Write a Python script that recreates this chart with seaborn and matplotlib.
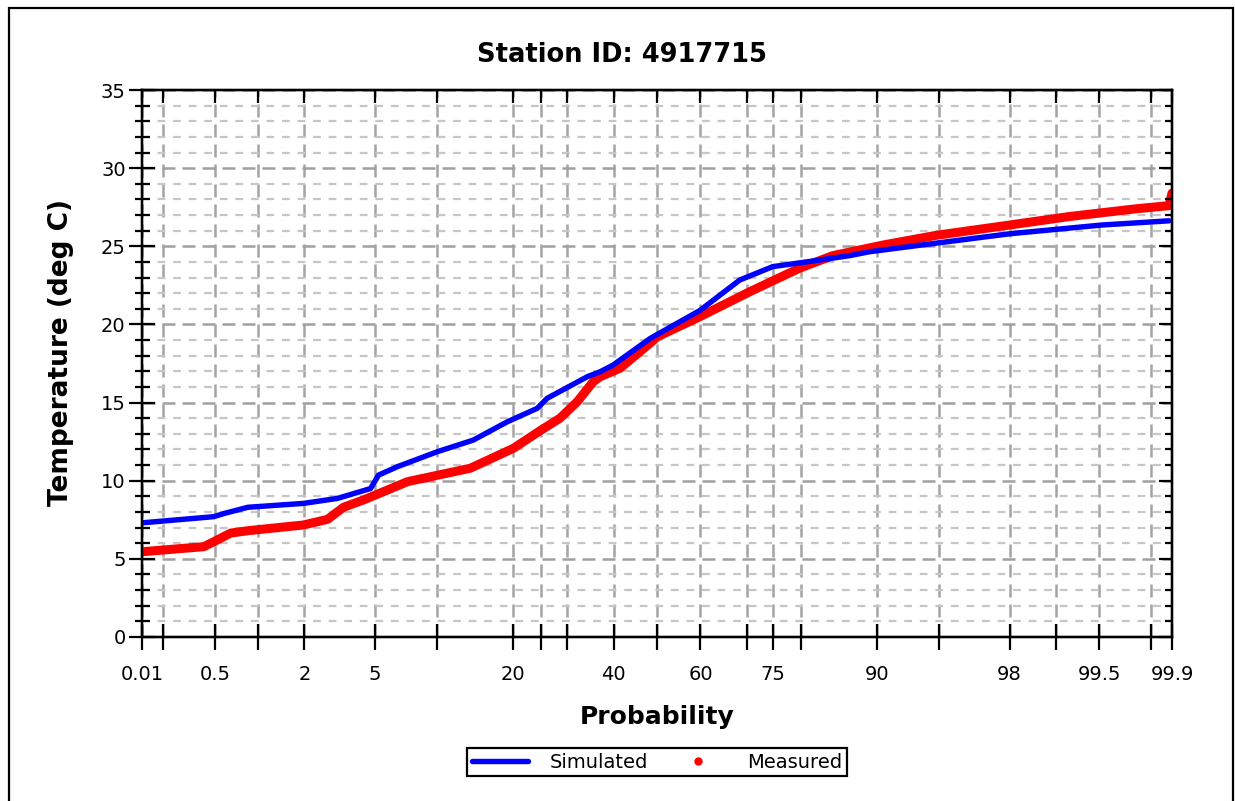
import math
from statistics import NormalDist

import numpy as np
import pandas as pd
import matplotlib
matplotlib.use("Agg")
import matplotlib.pyplot as plt
from matplotlib.lines import Line2D
from matplotlib.patches import Rectangle
from matplotlib.ticker import FixedLocator, FixedFormatter, MultipleLocator
import seaborn as sns

# ---------------- data ----------------
title = "Station ID: 4917715"
x_label = "Probability"
y_label = "Temperature (deg C)"
series_names = ["Simulated", "Measured"]

sim_prob = [0.138, 0.492, 0.582, 0.857, 1.98, 3.14, 4.76, 5.24, 6.53, 10.05,
            14.23, 19.16, 24.26, 26.1, 34.2, 37.0, 39.9, 48.4, 50.0, 59.9,
            68.5, 75.0, 80.8, 86.9, 89.2, 94.8, 98.0, 99.52, 99.857]
sim_temp = [7.31, 7.7, 7.9, 8.3, 8.55, 8.87, 9.5, 10.36, 10.9, 11.86,
            12.6, 13.77, 14.63, 15.27, 16.65, 16.97, 17.4, 19.1, 19.35, 20.9,
            22.84, 23.7, 24.0, 24.4, 24.65, 25.2, 25.8, 26.36, 26.63]

meas_prob = [0.138, 0.415, 0.492, 0.651, 0.857, 1.98, 2.75, 3.39, 4.37, 5.56,
             7.31, 13.85, 20.13, 24.8, 28.6, 32.1, 35.5, 37.0, 41.5, 48.4,
             50.0, 59.9, 70.6, 79.7, 84.7, 90.6, 94.8, 98.0, 99.18, 99.737,
             99.857, 99.865]
meas_temp = [5.46, 5.78, 6.1, 6.65, 6.8, 7.17, 7.53, 8.3, 8.77, 9.3,
             9.94, 10.8, 12.07, 13.2, 14.0, 15.05, 16.33, 16.65, 17.2, 18.8,
             19.2, 20.5, 22.1, 23.6, 24.4, 25.08, 25.7, 26.36, 26.9, 27.4,
             27.6, 28.4]

tick_probs = [0.135, 0.2, 0.5, 1, 2, 5, 10, 20, 25, 30, 40, 50, 60, 70, 75,
              80, 90, 95, 98, 99, 99.5, 99.8, 99.865]
tick_labels = ["0.01", "", "0.5", "", "2", "5", "", "20", "", "", "40", "",
               "60", "", "75", "", "90", "", "98", "", "99.5", "", "99.9"]
x_limits = (0.135, 99.865)
y_limits = (0, 35)

# ---------------- probability scale ----------------
_nd = NormalDist()
_ppf = np.vectorize(lambda p: _nd.inv_cdf(min(max(p / 100.0, 1e-12), 1 - 1e-12)),
                    otypes=[float])
_cdf = np.vectorize(lambda z: 50.0 * (1.0 + math.erf(z / math.sqrt(2.0))),
                    otypes=[float])


def fwd(p):
    return _ppf(np.asarray(p, dtype=float))


def inv(z):
    return _cdf(np.asarray(z, dtype=float))


# ---------------- style ----------------
sns.set_style("white")
plt.rcParams["font.family"] = ["DejaVu Sans"]
plt.rcParams["text.color"] = "black"
plt.rcParams["axes.labelcolor"] = "black"
plt.rcParams["xtick.color"] = "black"
plt.rcParams["ytick.color"] = "black"

fig = plt.figure(figsize=(12.35, 8.01), dpi=100)
ax = fig.add_axes([142 / 1235, 1 - 637 / 801, (1172 - 142) / 1235, (637 - 90) / 801])

sim_df = pd.DataFrame({"p": sim_prob, "t": sim_temp})
meas_df = pd.DataFrame({"p": meas_prob, "t": meas_temp})

sns.lineplot(data=meas_df, x="p", y="t", ax=ax, sort=False, estimator=None,
             color="#ff0000", lw=6.5, solid_capstyle="round",
             solid_joinstyle="round", zorder=3)
sns.lineplot(data=sim_df, x="p", y="t", ax=ax, sort=False, estimator=None,
             color="#0000ff", lw=3.9, solid_capstyle="round",
             solid_joinstyle="round", zorder=4)

ax.set_xscale("function", functions=(fwd, inv))
ax.set_xlim(*x_limits)
ax.set_ylim(*y_limits)

ax.xaxis.set_major_locator(FixedLocator(tick_probs))
ax.xaxis.set_major_formatter(FixedFormatter(tick_labels))
ax.xaxis.set_minor_locator(FixedLocator([]))
ax.yaxis.set_major_locator(MultipleLocator(5))
ax.yaxis.set_minor_locator(MultipleLocator(1))

# grid
ax.grid(False)
ax.grid(True, which="major", axis="x", color="#a4a4a4", lw=1.8,
        linestyle=(0, (5.2, 2.8)), zorder=1)
ax.grid(True, which="major", axis="y", color="#a0a0a0", lw=1.8,
        linestyle=(0, (5.2, 2.8)), zorder=1)
ax.grid(True, which="minor", axis="y", color="#c6c6c6", lw=1.6,
        linestyle=(0, (3.5, 3.5)), zorder=1)
ax.set_axisbelow(True)

for s in ax.spines.values():
    s.set_color("black")
    s.set_linewidth(1.6)

ax.tick_params(axis="x", which="major", direction="inout", length=18.7,
               width=1.6, color="black", labelcolor="black", labelsize=14,
               pad=11, bottom=True, top=False)
ax.tick_params(axis="y", which="major", direction="inout", length=19.4,
               width=1.6, color="black", labelcolor="black", labelsize=14,
               pad=2, left=True, right=False)
ax.tick_params(axis="y", which="minor", direction="inout", length=10.8,
               width=1.6, color="black", left=True, right=False)

ax.set_xlabel(x_label, fontsize=18, fontweight="bold", color="black")
ax.set_ylabel(y_label, fontsize=19, fontweight="bold", color="black")
ax.xaxis.set_label_coords(0.5, -0.124)
ax.yaxis.set_label_coords(-0.066, 0.521)

# top ticks (inward)
axt = ax.twiny()
axt.set_xscale("function", functions=(fwd, inv))
axt.set_xlim(*x_limits)
axt.xaxis.set_major_locator(FixedLocator(tick_probs))
axt.xaxis.set_minor_locator(FixedLocator([]))
axt.tick_params(axis="x", which="major", direction="in", length=9.4,
                width=1.6, color="black", top=True, bottom=False,
                labeltop=False, labelbottom=False)
axt.grid(False)

# right ticks (inward)
axr = ax.twinx()
axr.set_ylim(*y_limits)
axr.yaxis.set_major_locator(MultipleLocator(5))
axr.yaxis.set_minor_locator(MultipleLocator(1))
axr.tick_params(axis="y", which="major", direction="in", length=9.4,
                width=1.6, color="black", right=True, left=False,
                labelright=False, labelleft=False)
axr.tick_params(axis="y", which="minor", direction="in", length=5,
                width=1.6, color="black", right=True, left=False)
axr.grid(False)
for a in (axt, axr):
    for s in a.spines.values():
        s.set_color("black")
        s.set_linewidth(1.6)

fig.text(622 / 1235, 1 - 55 / 801, title, ha="center", va="center",
         fontsize=18.5, fontweight="bold", color="black")

handles = [
    Line2D([], [], color="#0000ff", lw=3.9),
    Line2D([], [], color="#ff0000", lw=0, marker="o", markersize=5),
]
leg = fig.legend(handles, series_names, loc="center",
                 bbox_to_anchor=(657 / 1235, 1 - 762 / 801), ncol=2,
                 fontsize=14, frameon=True, fancybox=False, framealpha=1,
                 edgecolor="black", borderpad=0.25, handlelength=2.9,
                 handletextpad=1.1, columnspacing=1.1, borderaxespad=0)
leg.get_frame().set_linewidth(1.6)
for t in leg.get_texts():
    t.set_color("black")

fig.patches.append(Rectangle((9 / 1235, -0.02), (1233 - 9) / 1235, 0.02 + 1 - 8 / 801,
                             transform=fig.transFigure, fill=False,
                             edgecolor="black", lw=1.6))

fig.savefig("out.png", dpi=100)
